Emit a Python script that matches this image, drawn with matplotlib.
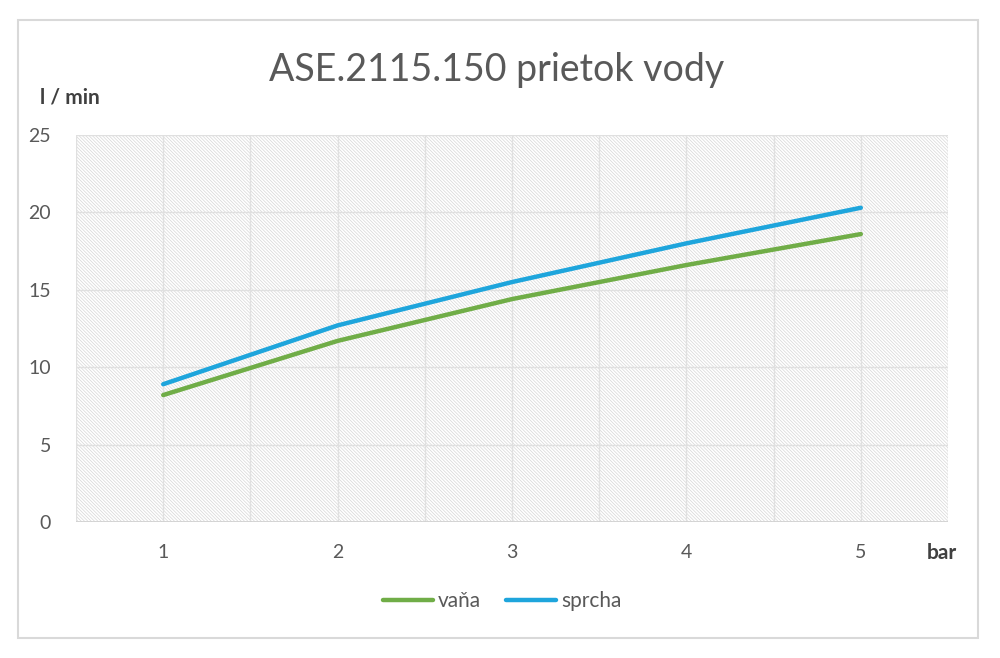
import matplotlib
matplotlib.use("Agg")
import matplotlib.pyplot as plt
from matplotlib.patches import Rectangle

pressure = [1, 2, 3, 4, 5]
x_labels = ["1", "2", "3", "4", "5"]
vana = [8.2, 11.7, 14.4, 16.6, 18.6]
sprcha = [8.9, 12.7, 15.5, 18.0, 20.3]
y_ticks = [0, 5, 10, 15, 20, 25]

plt.rcParams['font.family'] = ['Lato', 'DejaVu Sans']
plt.rcParams['hatch.color'] = '#d6d6d6'
plt.rcParams['hatch.linewidth'] = 0.5

fig = plt.figure(figsize=(10, 6.58), dpi=100)
fig.patch.set_facecolor('white')

# outer frame
frame = Rectangle((0.018, 1 - 638 / 658), 0.96, (638 - 20) / 658, transform=fig.transFigure,
                  fill=False, edgecolor='#d9d9d9', linewidth=1.5)
fig.patches.append(frame)

ax = fig.add_axes([0.076, 1 - 522 / 658, 0.872, (522 - 135) / 658])
ax.set_xlim(0.5, 5.5)
ax.set_ylim(0, 25)

ax.add_patch(Rectangle((0, 0), 1, 1, transform=ax.transAxes, facecolor='white',
                       edgecolor='#d6d6d6', hatch='\\' * 10, linewidth=0, zorder=0))

# gridlines
for xv in [0.5 + 0.5 * i for i in range(11)]:
    ax.axvline(xv, color='#e0e0e0', linewidth=1.0, zorder=1)
for yv in y_ticks:
    ax.axhline(yv, color='#e0e0e0', linewidth=1.0, zorder=1)
ax.axhline(0, color='#d0d0d0', linewidth=1.2, zorder=2)

ax.plot(pressure, vana, color='#70ad47', linewidth=3.2, solid_capstyle='round', label='vaňa', zorder=3)
ax.plot(pressure, sprcha, color='#1ea5dc', linewidth=3.2, solid_capstyle='round', label='sprcha', zorder=3)

for s in ax.spines.values():
    s.set_visible(False)
ax.set_xticks(pressure)
ax.set_xticklabels(x_labels)
ax.set_yticks(y_ticks)
ax.tick_params(length=0, labelsize=14, colors='#595959')
ax.tick_params(axis='x', pad=16)
ax.tick_params(axis='y', pad=18)

fig.text(0.497, 1 - 70 / 658, 'ASE.2115.150 prietok vody', ha='center', va='center',
         fontsize=27, color='#595959', fontweight='normal')
fig.text(0.040, 1 - 98 / 658, 'l / min', ha='left', va='center', fontsize=15,
         fontweight='bold', color='#404040')
fig.text(0.942, 1 - 553 / 658, 'bar', ha='center', va='center', fontsize=15,
         fontweight='bold', color='#404040')

leg = ax.legend(loc='center', bbox_to_anchor=(0.502, 1 - 601 / 658), bbox_transform=fig.transFigure,
                ncol=2, frameon=False, fontsize=15, handlelength=2.4, handletextpad=0.25,
                columnspacing=1.2)
for t in leg.get_texts():
    t.set_color('#595959')

fig.savefig('out.png', dpi=100)
